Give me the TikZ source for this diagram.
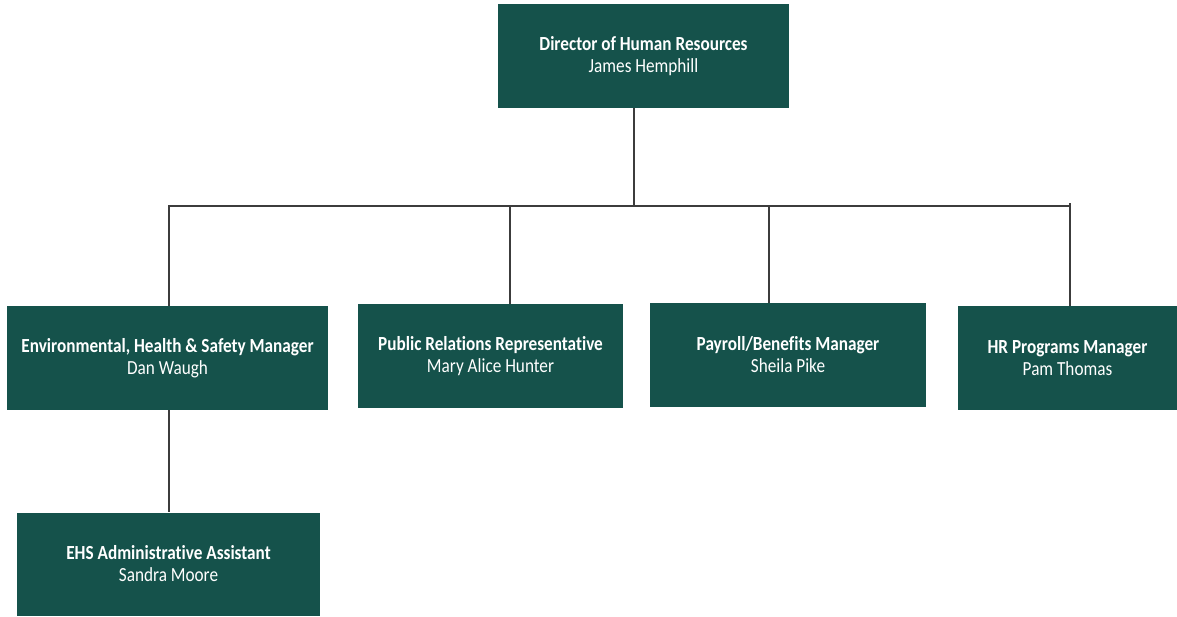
\documentclass[tikz,border=0pt]{standalone}
\usepackage{fontspec}
\setmainfont{Carlito}[FakeStretch=0.86,Ligatures=NoCommon]
\definecolor{boxgreen}{RGB}{21,82,75}
\definecolor{linegray}{RGB}{60,60,60}
\begin{document}
\begin{tikzpicture}[x=1pt,y=-1pt,
  orgbox/.style={fill=boxgreen, text=white, align=center, inner sep=0pt,
    font=\fontsize{20}{22}\selectfont},
  conn/.style={draw=linegray, line width=1.3pt}]
\useasboundingbox (0,0) rectangle (1177,616);
\newcommand{\ttl}[1]{\textbf{#1}}
\node[orgbox, minimum width=291, minimum height=104] (dir) at (643.5,56) {\ttl{Director of Human Resources}\\James Hemphill};
\node[orgbox, minimum width=321, minimum height=104] (ehs) at (167.5,358) {\ttl{Environmental, Health \& Safety Manager}\\Dan Waugh};
\node[orgbox, minimum width=265, minimum height=104] (pr) at (490.5,356) {\ttl{Public Relations Representative}\\Mary Alice Hunter};
\node[orgbox, minimum width=276, minimum height=104] (pay) at (788,355) {\ttl{Payroll/Benefits Manager}\\Sheila Pike};
\node[orgbox, minimum width=219, minimum height=104] (hrp) at (1067.5,358) {\ttl{HR Programs Manager}\\Pam Thomas};
\node[orgbox, minimum width=303, minimum height=103] (asst) at (168.5,564) {\ttl{EHS Administrative Assistant}\\Sandra Moore};
\coordinate (j0) at (634,206);
\coordinate (bl) at (168,206);
\coordinate (br) at (1071,206);
\coordinate (c1) at (169,206);
\coordinate (c2) at (510,206);
\coordinate (c3) at (769,206);
\coordinate (c4) at (1070,206);
\draw[conn] (dir.south -| j0) -- (j0);
\draw[conn] (bl) -- (br);
\draw[conn] (c1) -- (c1 |- ehs.north);
\draw[conn] (c2) -- (c2 |- pr.north);
\draw[conn] (c3) -- (c3 |- pay.north);
\draw[conn] (1070,203) -- (c4 |- hrp.north);
\draw[conn] (ehs.south -| c1) -- (c1 |- asst.north);
\end{tikzpicture}
\end{document}
